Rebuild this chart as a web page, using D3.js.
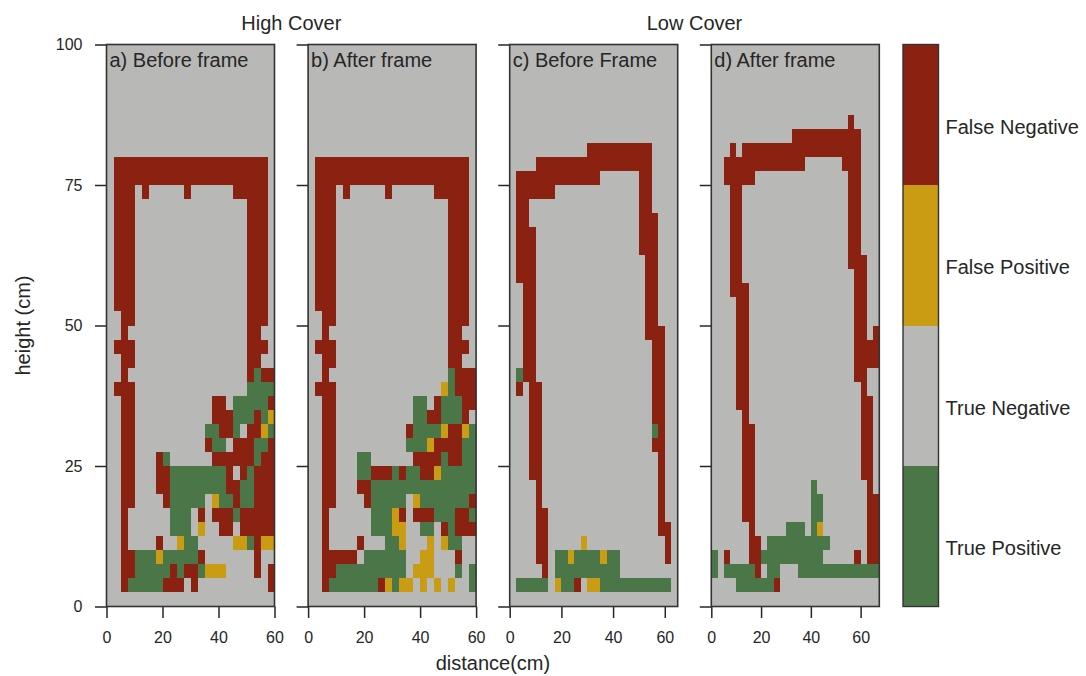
<!DOCTYPE html>
<meta charset="utf-8">
<head>
<title>Frame detection maps</title>
</head>
<style>
body { margin: 0; background: #fff; }
svg text { font-family: "Liberation Sans", Arial, sans-serif; }
</style>
<body>
<svg id="chart" width="1086" height="676"></svg>

<script src="https://d3js.org/d3.v7.min.js"></script>
<script>

// categories, bottom to top in the colour bar
var categories = ['True Positive', 'True Negative', 'False Positive', 'False Negative'];
var catColors = ['#4b7647', '#b8b8b6', '#c99c14', '#8b2110'];
// one character per grid cell in the maps below
var cellCodes = { 'T': 0, '.': 1, 'P': 2, 'N': 3 };

var groupTitles = ['High Cover', 'Low Cover'];
var panelTitles = ['a) Before frame', 'b) After frame', 'c) Before Frame', 'd) After frame'];
var panelXMax = [60, 60, 65, 67.5];   // cm covered by each map
var cellSize = 2.5;                    // cm
var xTicks = [0, 20, 40, 60];
var yTicks = [0, 25, 50, 75, 100];

// rows run from height 100 cm (top) down to 0 cm
var gridA = [
  "........................",
  "........................",
  "........................",
  "........................",
  "........................",
  "........................",
  "........................",
  "........................",
  ".NNNNNNNNNNNNNNNNNNNNNN.",
  ".NNNNNNNNNNNNNNNNNNNNNN.",
  ".NNN.N.....N......NNNNN.",
  ".NNN................NNN.",
  ".NNN................NNN.",
  ".NNN................NNN.",
  ".NNN................NNN.",
  ".NNN................NNN.",
  ".NNN................NNN.",
  ".NNN................NNN.",
  ".NNN................NNN.",
  "..NN................NNN.",
  "..N.................NN..",
  ".NNN................NNN.",
  "..NN................NN..",
  "..N.................NTNN",
  ".NNN................TTTT",
  "..NN...........NN.TTTTTN",
  "..NN...........NNNTTTNTP",
  "..NN..........TTNNT.NNPT",
  "..NN..........NTT.NNNTTN",
  "..NN...NT......NNNNNNTNN",
  "..NN...NNTTTTTTTTN.NTNNN",
  "..NN...NNTTTTTTTTNNTTNNN",
  "..NN....NTTTTT.PTTNTTNNN",
  "..N......TTT.N.NNNTNNNNN",
  "..N......TTT.P..NN.NNNNN",
  "..N....N..PTT.....PPTNPP",
  "..NNTTTPTTTTTN.......N..",
  "..NNTTTTTNTNNTPPP....N.N",
  "..NTTTTTNNN.N..........N",
  "........................"
];

var gridB = [
  "........................",
  "........................",
  "........................",
  "........................",
  "........................",
  "........................",
  "........................",
  "........................",
  ".NNNNNNNNNNNNNNNNNNNNNN.",
  ".NNNNNNNNNNNNNNNNNNNNNN.",
  ".NNN.N.....N......NNNNN.",
  ".NNN................NNN.",
  ".NNN................NNN.",
  ".NNN................NNN.",
  ".NNN................NNN.",
  ".NNN................NNN.",
  ".NNN................NNN.",
  ".NNN................NNN.",
  ".NNN................NNN.",
  "..NN................NNN.",
  "..N.................NN..",
  ".NNN................NNN.",
  "..NN................NN..",
  "..N.................TNNN",
  ".NNN...............PTNNN",
  "..NN...........TT.NTTTNN",
  "..NN...........TTNNTTTN.",
  "..NN..........NTTTTPNNPT",
  "..NN..........TTTPNNNNTT",
  "..NN...TT......NNNNTNNTT",
  "..NN...TTNNNTNTTNNPTTTTT",
  "..NN...NNTTTTTTTTTTTTTTT",
  "..NN....NTTTTT.PTTTTTTTN",
  "..N......TTTPN.NNNTTTNNT",
  "..N......TTTPP..TT.NTNNN",
  "..N....N...TTP...P.PTT..",
  "..NNNNN.TTTTTT..PP...N..",
  "..NNTTTTTTTTTT.PPP...T.T",
  "..NTTTTTTTNPTPP.P.P.P..T",
  "........................"
];

var gridC = [
  "..........................",
  "..........................",
  "..........................",
  "..........................",
  "..........................",
  "..........................",
  "..........................",
  "............NNNNNNNNNN....",
  "....NNNNNNNNNNNNNNNNNN....",
  ".NNNNNNNNNNNNN......NN....",
  ".NNNNNN.............NN....",
  ".NN.................NN....",
  ".NN.................NNN...",
  ".NNN................NNN...",
  ".NNN................NNN...",
  ".NNN.................NN...",
  ".NNN.................NN...",
  "..NN.................NN...",
  "..NN.................NN...",
  "..NN.................NN...",
  "..NN.................NNN..",
  "..NN..................NN..",
  "..NN..................NN..",
  ".TNN..................NN..",
  ".N.NN.................NN..",
  "...NN.................NN..",
  "...NN.................NN..",
  "...NN.................TN..",
  "...NN.................NN..",
  "...NN..................N..",
  "...NN..................N..",
  "....N..................N..",
  "....N..................N..",
  "....NN.................N..",
  "....NN.................NN.",
  "....NN.....P............N.",
  "....NN.TTPTTTTPTT.......N.",
  ".....N.TTTTTTTTTT.........",
  ".TTTTT.PTTN.PPTTTTTTTTTTT.",
  ".........................."
];

var gridD = [
  "...........................",
  "...........................",
  "...........................",
  "...........................",
  "...........................",
  "......................N....",
  ".............NNNNNNNNNNN...",
  "...N.NNNNNNNNNNNNNNNNNNN...",
  "..NNNNNNNNNNNNN......NNN...",
  "..NNNNN...............NN...",
  "...NN.................NN...",
  "...NN.................NN...",
  "...NN.................NN...",
  "...NN.................NN...",
  "...NN.................NN...",
  "...NN.................NNN..",
  "...NN..................NN..",
  "...NNN.................NN..",
  "....NN.................NN..",
  "....NN.................NN..",
  "....NN.................NN.N",
  "....NN.................NNNN",
  "....NN.................NNNN",
  "....NN.................NN..",
  "....NN..................N..",
  "....NN..................NN.",
  ".....N..................NN.",
  ".....NN.................NN.",
  ".....NN.................NN.",
  ".....NN.................NN.",
  ".....NN.................NN.",
  ".....NN.........T........N.",
  ".....NN.........TT.......NN",
  ".....NN.........TT.......NN",
  "......N.....TTT.TP.......NN",
  "......NN.TTTTTTTTTT......NN",
  "T.N...NNTTTTTTTTTT.....N.NN",
  "T.TTTTTN.TT...TTTTTTTTTTTTT",
  "....TTTTTTN................",
  "..........................."
];

var grids = [gridA, gridB, gridC, gridD];

// ------------------------------------------------------------
var svg = d3.select('#chart');
var ink = '#262626';
var fontLarge = 20, fontTick = 16;
var tickLen = 11.5;

var panelW = 168, panelTop = 44.5, panelBottom = 606.5;
var panelLeft = [106.5, 308.1, 509.7, 711.3];

var y = d3.scaleLinear().domain([0, 100]).range([panelBottom, panelTop]);
var color = d3.scaleOrdinal().domain(d3.range(categories.length)).range(catColors);

grids.forEach(function(grid, i) {
  var x = d3.scaleLinear().domain([0, panelXMax[i]]).range([panelLeft[i], panelLeft[i] + panelW]);
  var nCols = Math.round(panelXMax[i] / cellSize);

  // merge horizontal runs of equal cells into one rect
  var runs = [];
  grid.forEach(function(row, r) {
    row = (row + '.'.repeat(nCols)).slice(0, nCols);
    var top = 100 - r * cellSize;
    var c0 = 0;
    for (var c = 1; c <= nCols; c++) {
      if (c == nCols || row[c] != row[c0]) {
        runs.push({ x0: c0 * cellSize, x1: c * cellSize, y0: top - cellSize, y1: top, cat: cellCodes[row[c0]] });
        c0 = c;
      }
    }
  });

  var g = svg.append('g').attr('class', 'panel');

  g.append('g').selectAll('rect')
    .data(runs)
    .enter().append('rect')
    .attr('x', function(d) { return x(d.x0); })
    .attr('y', function(d) { return y(d.y1); })
    .attr('width', function(d) { return x(d.x1) - x(d.x0); })
    .attr('height', function(d) { return y(d.y0) - y(d.y1); })
    .attr('fill', function(d) { return color(d.cat); })
    .attr('shape-rendering', 'crispEdges');

  // x axis
  var xa = g.append('g')
    .attr('transform', 'translate(0,' + panelBottom + ')')
    .call(d3.axisBottom(x).tickValues(xTicks).tickSize(tickLen).tickSizeOuter(0).tickPadding(14));
  // y axis, labels only on the first map
  var ya = g.append('g')
    .attr('transform', 'translate(' + panelLeft[i] + ',0)')
    .call(d3.axisLeft(y).tickValues(yTicks).tickSize(tickLen).tickSizeOuter(0).tickPadding(12.5));
  if (i > 0) ya.selectAll('text').remove();

  [xa, ya].forEach(function(a) {
    a.select('.domain').remove();
    a.attr('color', ink).attr('font-size', fontTick).attr('font-family', null);
    a.selectAll('line').attr('stroke-width', 1.5);
  });

  // frame
  g.append('rect')
    .attr('x', panelLeft[i]).attr('y', panelTop)
    .attr('width', panelW).attr('height', panelBottom - panelTop)
    .attr('fill', 'none').attr('stroke', '#333').attr('stroke-width', 1.6);

  g.append('text')
    .attr('x', panelLeft[i] + 3).attr('y', panelTop + 22)
    .attr('font-size', fontLarge).attr('fill', ink)
    .text(panelTitles[i]);
});

// group titles over pairs of maps
groupTitles.forEach(function(t, k) {
  var left = panelLeft[2 * k], right = panelLeft[2 * k + 1] + panelW;
  svg.append('text')
    .attr('x', (left + right) / 2).attr('y', 30)
    .attr('text-anchor', 'middle')
    .attr('font-size', fontLarge).attr('fill', ink)
    .text(t);
});

svg.append('text')
  .attr('x', (panelLeft[0] + panelLeft[3] + panelW) / 2).attr('y', 670)
  .attr('text-anchor', 'middle')
  .attr('font-size', fontLarge).attr('fill', ink)
  .text('distance(cm)');

svg.append('text')
  .attr('transform', 'translate(30,' + (panelTop + panelBottom) / 2 + ') rotate(-90)')
  .attr('text-anchor', 'middle')
  .attr('font-size', fontLarge).attr('fill', ink)
  .text('height (cm)');

// colour bar
var cbX = 903, cbW = 35.5;
var cbY = d3.scaleBand().domain(d3.range(categories.length).reverse()).range([panelTop, panelBottom]);
var cb = svg.append('g');
cb.selectAll('rect.seg')
  .data(d3.range(categories.length))
  .enter().append('rect')
  .attr('class', 'seg')
  .attr('x', cbX).attr('y', function(d) { return cbY(d); })
  .attr('width', cbW).attr('height', cbY.bandwidth())
  .attr('fill', function(d) { return color(d); })
  .attr('shape-rendering', 'crispEdges');
cb.append('rect')
  .attr('x', cbX).attr('y', panelTop)
  .attr('width', cbW).attr('height', panelBottom - panelTop)
  .attr('fill', 'none').attr('stroke', '#333').attr('stroke-width', 1.4);
// labels sit a little below the middle of each band, as in the original
cb.selectAll('text')
  .data(d3.range(categories.length))
  .enter().append('text')
  .attr('x', cbX + cbW + 7)
  .attr('y', function(d) { return cbY(d) + cbY.bandwidth() / 2 + 12; })
  .attr('dy', '0.35em')
  .attr('font-size', fontLarge).attr('fill', ink)
  .text(function(d) { return categories[d]; });

</script>
</body>
